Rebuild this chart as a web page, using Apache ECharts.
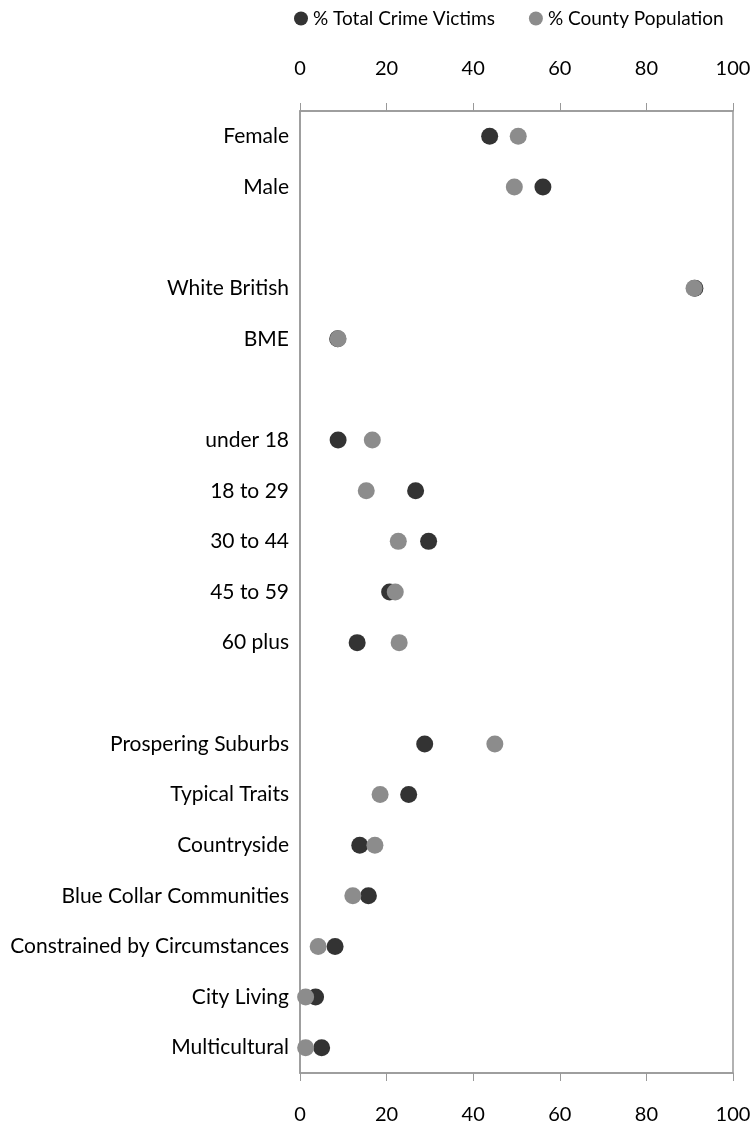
<!DOCTYPE html>
<html>
<head>
<meta charset="utf-8">
<script src="https://cdn.jsdelivr.net/npm/echarts@6/dist/echarts.min.js"></script>
<style>
html,body{margin:0;padding:0;background:#fff;}
#chart{width:754px;height:1125px;}
</style>
</head>
<body>
<div id="chart"></div>
<script>
const categories = ['Female','Male',' ','White British','BME','  ','under 18','18 to 29','30 to 44','45 to 59','60 plus','   ','Prospering Suburbs','Typical Traits','Countryside','Blue Collar Communities','Constrained by Circumstances','City Living','Multicultural'];
const victims = [43.8,56.1,null,91.2,8.7,null,8.8,26.7,29.7,20.7,13.2,null,28.8,25.1,13.8,15.8,8.1,3.6,5.0];
const population = [50.4,49.5,null,91.0,8.8,null,16.7,15.3,22.7,22.0,22.9,null,45.0,18.5,17.3,12.2,4.2,1.3,1.3];
const seriesNames = ['% Total Crime Victims','% County Population'];
const xTicks = {min:0,max:100,interval:20};

const FONT = 'Lato';
const toPts = arr => arr.map((v,i)=> v==null ? null : [v,i]).filter(p=>p);

const chart = echarts.init(document.getElementById('chart'));
const xAxisBase = {
  type:'value', min:xTicks.min, max:xTicks.max, interval:xTicks.interval,
  axisLine:{show:true,lineStyle:{color:'#999',width:1.5}},
  axisTick:{show:true,inside:false,length:8,lineStyle:{color:'#999',width:1}},
  splitLine:{show:false},
  axisLabel:{color:'#000',fontFamily:FONT,fontSize:20,margin:32}
};
chart.setOption({
  animation:false,
  textStyle:{fontFamily:FONT},
  legend:{
    data:seriesNames, left:289, top:4, itemGap:34, itemWidth:14, itemHeight:14,
    icon:'circle', textStyle:{color:'#000',fontSize:19,fontFamily:FONT}
  },
  grid:{left:300,right:21,top:111,bottom:52,show:true,borderColor:'#999',borderWidth:1.5,containLabel:false},
  xAxis:[
    Object.assign({},xAxisBase,{position:'top'}),
    Object.assign({},xAxisBase,{position:'bottom'})
  ],
  yAxis:{
    type:'category', data:categories, inverse:true,
    axisLine:{show:true,lineStyle:{color:'#999',width:1.5}},
    axisTick:{show:false},
    splitLine:{show:false},
    axisLabel:{color:'#000',fontFamily:FONT,fontSize:21,margin:11,interval:0}
  },
  series:[
    {name:seriesNames[0],type:'scatter',symbol:'circle',symbolSize:17,xAxisIndex:0,
     itemStyle:{color:'#333333',opacity:1},data:toPts(victims)},
    {name:seriesNames[1],type:'scatter',symbol:'circle',symbolSize:17,xAxisIndex:0,
     itemStyle:{color:'#8c8c8c',opacity:1},data:toPts(population)}
  ]
});
</script>
</body>
</html>
